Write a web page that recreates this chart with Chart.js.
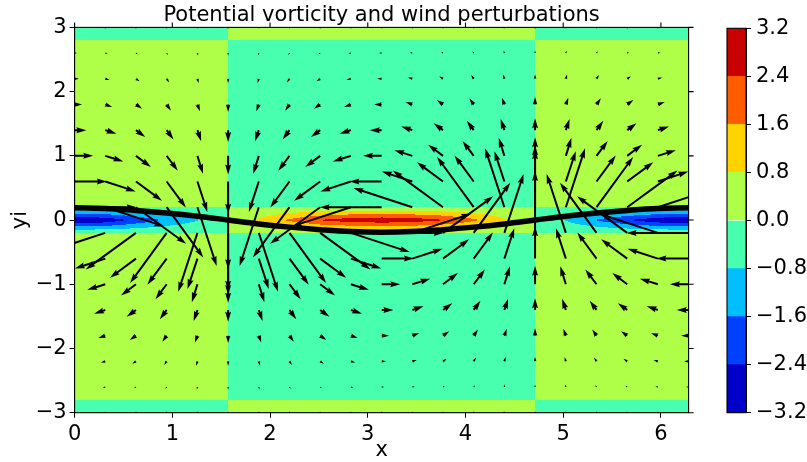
<!DOCTYPE html>
<html><head><meta charset="utf-8">
<script src="https://cdn.jsdelivr.net/npm/chart.js@4.4.0/dist/chart.umd.min.js"></script>
<style>
html,body{margin:0;padding:0;background:#fff;}
#wrap{position:relative;width:807px;height:462px;}
#wrap canvas{position:absolute;left:0;top:0;}
</style></head><body>
<div id="wrap"><canvas id="main" width="807" height="462"></canvas><canvas id="cbar" width="807" height="462"></canvas></div>
<script>
// ---------- data ----------
const titleText = 'Potential vorticity and wind perturbations';
const xTickVals = [0, 1, 2, 3, 4, 5, 6];
const yTickVals = [-3, -2, -1, 0, 1, 2, 3];
const cbLevels = [-3.2, -2.4, -1.6, -0.8, 0, 0.8, 1.6, 2.4, 3.2];
const cbColors = ['#0000c8', '#0040ff', '#00bfff', '#48ffaf', '#afff48', '#ffd200', '#ff5c00', '#c80000'];

// quiver grid (x columns, y rows)
const gridX = [0, 0.314, 0.628, 0.942, 1.257, 1.571, 1.885, 2.199, 2.513, 2.827, 3.142, 3.456, 3.770, 4.084, 4.398, 4.712, 5.027, 5.341, 5.655, 5.969, 6.283];
const gridY = [-3.0, -2.6, -2.2, -1.8, -1.4, -1.0, -0.6, -0.2, 0.2, 0.6, 1.0, 1.4, 1.8, 2.2, 2.6, 3.0];

// wind perturbation u (rows follow gridY)
const windU = [
 [-0.02,-0.02,-0.02,-0.01,-0.01,0,0.01,0.01,0.02,0.02,0.02,0.02,0.02,0.01,0.01,0,-0.01,-0.01,-0.02,-0.02,-0.02],
 [-0.04,-0.04,-0.03,-0.02,-0.01,0,0.01,0.02,0.03,0.04,0.04,0.04,0.03,0.02,0.01,0,-0.01,-0.02,-0.03,-0.04,-0.04],
 [-0.07,-0.07,-0.06,-0.04,-0.02,0,0.02,0.04,0.06,0.07,0.07,0.07,0.06,0.04,0.02,0,-0.02,-0.04,-0.06,-0.07,-0.07],
 [-0.12,-0.11,-0.10,-0.07,-0.04,0,0.04,0.07,0.10,0.11,0.12,0.11,0.10,0.07,0.04,0,-0.04,-0.07,-0.10,-0.11,-0.12],
 [-0.19,-0.18,-0.15,-0.11,-0.06,0,0.06,0.11,0.15,0.18,0.19,0.18,0.15,0.11,0.06,0,-0.06,-0.11,-0.15,-0.18,-0.19],
 [-0.30,-0.29,-0.24,-0.18,-0.09,0,0.09,0.18,0.24,0.29,0.30,0.29,0.24,0.18,0.09,0,-0.09,-0.18,-0.24,-0.29,-0.30],
 [-0.52,-0.49,-0.42,-0.31,-0.16,0,0.16,0.31,0.42,0.49,0.52,0.49,0.42,0.31,0.16,0,-0.16,-0.31,-0.42,-0.49,-0.52],
 [-1.00,-0.95,-0.81,-0.59,-0.31,0,0.31,0.59,0.81,0.95,1.00,0.95,0.81,0.59,0.31,0,-0.31,-0.59,-0.81,-0.95,-1.00],
 [1.00,0.95,0.81,0.59,0.31,0,-0.31,-0.59,-0.81,-0.95,-1.00,-0.95,-0.81,-0.59,-0.31,0,0.31,0.59,0.81,0.95,1.00],
 [0.52,0.49,0.42,0.31,0.16,0,-0.16,-0.31,-0.42,-0.49,-0.52,-0.49,-0.42,-0.31,-0.16,0,0.16,0.31,0.42,0.49,0.52],
 [0.30,0.29,0.24,0.18,0.09,0,-0.09,-0.18,-0.24,-0.29,-0.30,-0.29,-0.24,-0.18,-0.09,0,0.09,0.18,0.24,0.29,0.30],
 [0.19,0.18,0.15,0.11,0.06,0,-0.06,-0.11,-0.15,-0.18,-0.19,-0.18,-0.15,-0.11,-0.06,0,0.06,0.11,0.15,0.18,0.19],
 [0.12,0.11,0.10,0.07,0.04,0,-0.04,-0.07,-0.10,-0.11,-0.12,-0.11,-0.10,-0.07,-0.04,0,0.04,0.07,0.10,0.11,0.12],
 [0.07,0.07,0.06,0.04,0.02,0,-0.02,-0.04,-0.06,-0.07,-0.07,-0.07,-0.06,-0.04,-0.02,0,0.02,0.04,0.06,0.07,0.07],
 [0.04,0.04,0.03,0.02,0.01,0,-0.01,-0.02,-0.03,-0.04,-0.04,-0.04,-0.03,-0.02,-0.01,0,0.01,0.02,0.03,0.04,0.04],
 [0.02,0.02,0.02,0.01,0.01,0,-0.01,-0.01,-0.02,-0.02,-0.02,-0.02,-0.02,-0.01,-0.01,0,0.01,0.01,0.02,0.02,0.02]
];
// wind perturbation v (rows follow gridY)
const windV = [
 [0,-0.01,-0.01,-0.02,-0.02,-0.02,-0.02,-0.02,-0.01,-0.01,0,0.01,0.01,0.02,0.02,0.02,0.02,0.02,0.01,0.01,0],
 [0,-0.01,-0.02,-0.03,-0.04,-0.04,-0.04,-0.03,-0.02,-0.01,0,0.01,0.02,0.03,0.04,0.04,0.04,0.03,0.02,0.01,0],
 [0,-0.02,-0.04,-0.06,-0.07,-0.07,-0.07,-0.06,-0.04,-0.02,0,0.02,0.04,0.06,0.07,0.07,0.07,0.06,0.04,0.02,0],
 [0,-0.04,-0.07,-0.10,-0.11,-0.12,-0.11,-0.10,-0.07,-0.04,0,0.04,0.07,0.10,0.11,0.12,0.11,0.10,0.07,0.04,0],
 [0,-0.06,-0.11,-0.15,-0.18,-0.19,-0.18,-0.15,-0.11,-0.06,0,0.06,0.11,0.15,0.18,0.19,0.18,0.15,0.11,0.06,0],
 [0,-0.09,-0.18,-0.24,-0.29,-0.30,-0.29,-0.24,-0.18,-0.09,0,0.09,0.18,0.24,0.29,0.30,0.29,0.24,0.18,0.09,0],
 [0,-0.16,-0.31,-0.42,-0.49,-0.52,-0.49,-0.42,-0.31,-0.16,0,0.16,0.31,0.42,0.49,0.52,0.49,0.42,0.31,0.16,0],
 [0,-0.31,-0.59,-0.81,-0.95,-1.00,-0.95,-0.81,-0.59,-0.31,0,0.31,0.59,0.81,0.95,1.00,0.95,0.81,0.59,0.31,0],
 [0,-0.31,-0.59,-0.81,-0.95,-1.00,-0.95,-0.81,-0.59,-0.31,0,0.31,0.59,0.81,0.95,1.00,0.95,0.81,0.59,0.31,0],
 [0,-0.16,-0.31,-0.42,-0.49,-0.52,-0.49,-0.42,-0.31,-0.16,0,0.16,0.31,0.42,0.49,0.52,0.49,0.42,0.31,0.16,0],
 [0,-0.09,-0.18,-0.24,-0.29,-0.30,-0.29,-0.24,-0.18,-0.09,0,0.09,0.18,0.24,0.29,0.30,0.29,0.24,0.18,0.09,0],
 [0,-0.06,-0.11,-0.15,-0.18,-0.19,-0.18,-0.15,-0.11,-0.06,0,0.06,0.11,0.15,0.18,0.19,0.18,0.15,0.11,0.06,0],
 [0,-0.04,-0.07,-0.10,-0.11,-0.12,-0.11,-0.10,-0.07,-0.04,0,0.04,0.07,0.10,0.11,0.12,0.11,0.10,0.07,0.04,0],
 [0,-0.02,-0.04,-0.06,-0.07,-0.07,-0.07,-0.06,-0.04,-0.02,0,0.02,0.04,0.06,0.07,0.07,0.07,0.06,0.04,0.02,0],
 [0,-0.01,-0.02,-0.03,-0.04,-0.04,-0.04,-0.03,-0.02,-0.01,0,0.01,0.02,0.03,0.04,0.04,0.04,0.03,0.02,0.01,0],
 [0,-0.01,-0.01,-0.02,-0.02,-0.02,-0.02,-0.02,-0.01,-0.01,0,0.01,0.01,0.02,0.02,0.02,0.02,0.02,0.01,0.01,0]
];

// potential vorticity field: columns at pvX, rows at pvY
const pvX = [0, 0.314, 0.628, 0.942, 1.257, 1.571, 1.885, 2.199, 2.513, 2.827, 3.142, 3.456, 3.770, 4.084, 4.398, 4.712, 5.027, 5.341, 5.655, 5.969, 6.283];
const pvY = [-3.0, -2.8, -2.6, -0.4, -0.2, 0, 0.2, 0.4, 2.6, 2.8, 3.0];
const pvCenter = [-3.18,-2.95,-2.2,-1.45,-0.85,0,0.9,1.75,2.45,2.85,3.0,2.85,2.45,1.75,0.9,0,-0.85,-1.65,-2.35,-2.95,-3.18];
const pvFar    = [0.3,0.29,0.24,0.18,0.09,0,-0.09,-0.18,-0.24,-0.29,-0.3,-0.29,-0.24,-0.18,-0.09,0,0.09,0.18,0.24,0.29,0.3];
const pvEdge   = [-0.3,-0.29,-0.24,-0.18,-0.09,0,0.09,0.18,0.24,0.29,0.3,0.29,0.24,0.18,0.09,0,-0.09,-0.18,-0.24,-0.29,-0.3];
const pvNull   = [0,0,0,0,0,0,0,0,0,0,0,0,0,0,0,0,0,0,0,0,0];
const pvRows = [pvEdge, pvNull, pvFar, pvFar, pvNull, pvCenter, pvNull, pvFar, pvFar, pvNull, pvEdge];

// displaced front (thick line)
const frontX = gridX;
const frontY = [0.19,0.18,0.15,0.11,0.06,0,-0.06,-0.11,-0.15,-0.18,-0.19,-0.18,-0.15,-0.11,-0.06,0,0.06,0.11,0.15,0.18,0.19];

// ---------- style ----------
const FONT = 'DejaVu Sans';
const FS = 21;
Chart.defaults.font.family = FONT;
Chart.defaults.font.size = FS;
Chart.defaults.color = '#000';

function minusFmt(v, digits){ return (digits == null ? String(v) : v.toFixed(digits)).replace('-', '\u2212'); }
function hexRgb(h){return [parseInt(h.slice(1,3),16),parseInt(h.slice(3,5),16),parseInt(h.slice(5,7),16)];}
function locate(arr, v){
  if (v <= arr[0]) return [0, 0];
  const n = arr.length;
  if (v >= arr[n-1]) return [n-2, 1];
  let i = 0; while (i < n-2 && v > arr[i+1]) i++;
  return [i, (v - arr[i]) / (arr[i+1] - arr[i])];
}
function binOf(q){
  for (let k = 0; k < cbLevels.length-1; k++) if (q < cbLevels[k+1]) return k;
  return cbLevels.length-2;
}

const fieldPlugin = {
  id: 'pvField',
  beforeDatasetsDraw(chart){
    const ctx = chart.ctx, a = chart.chartArea, sx = chart.scales.x, sy = chart.scales.y;
    // filled contours
    const x0 = Math.floor(a.left), x1 = Math.ceil(a.right), y0 = Math.floor(a.top), y1 = Math.ceil(a.bottom);
    const w = x1 - x0, h = y1 - y0;
    const off = document.createElement('canvas'); off.width = w; off.height = h;
    const octx = off.getContext('2d'); const img = octx.createImageData(w, h);
    const rgb = cbColors.map(hexRgb);
    const cols = [], rows = [];
    for (let i = 0; i < w; i++) cols.push(locate(pvX, sx.getValueForPixel(x0 + i + 0.5)));
    for (let j = 0; j < h; j++) rows.push(locate(pvY, sy.getValueForPixel(y0 + j + 0.5)));
    for (let j = 0; j < h; j++){
      const [rj, s] = rows[j]; const A = pvRows[rj], B = pvRows[rj+1];
      for (let i = 0; i < w; i++){
        const [ci, t] = cols[i];
        const q = (1-s)*((1-t)*A[ci] + t*A[ci+1]) + s*((1-t)*B[ci] + t*B[ci+1]);
        const c = rgb[binOf(q)]; const p = (j*w + i)*4;
        img.data[p] = c[0]; img.data[p+1] = c[1]; img.data[p+2] = c[2]; img.data[p+3] = 255;
      }
    }
    octx.putImageData(img, 0, 0);
    ctx.save();
    ctx.beginPath(); ctx.rect(a.left, a.top, a.right - a.left, a.bottom - a.top); ctx.clip();
    ctx.imageSmoothingEnabled = false;
    ctx.drawImage(off, x0, y0);
    // quiver arrows (matplotlib style)
    const sw = 2.0;                      // shaft width, px
    const scalePx = (a.right - a.left) * 0.101;  // px per wind unit
    ctx.fillStyle = '#000';
    for (let j = 0; j < gridY.length; j++){
      for (let i = 0; i < gridX.length; i++){
        const px = sx.getPixelForValue(gridX[i]), py = sy.getPixelForValue(gridY[j]);
        const dx = windU[j][i]*scalePx, dy = -windV[j][i]*scalePx;
        const L = Math.hypot(dx, dy) / sw;
        const ang = Math.atan2(dy, dx);
        let pts;
        if (L < 1){
          pts = []; for (let k = 0; k < 6; k++){ const th = k*Math.PI/3; pts.push([0.5*Math.cos(th), 0.5*Math.sin(th)]); }
        } else {
          const Ld = Math.max(L, 5), f = L < 5 ? L/5 : 1;
          pts = [[0,0.5],[Ld-4.5,0.5],[Ld-5,1.5],[Ld,0],[Ld-5,-1.5],[Ld-4.5,-0.5],[0,-0.5]].map(p => [p[0]*f, p[1]*f]);
        }
        const ca = Math.cos(ang), sa = Math.sin(ang);
        ctx.beginPath();
        pts.forEach((p, k) => {
          const X = px + sw*(p[0]*ca - p[1]*sa), Y = py + sw*(p[0]*sa + p[1]*ca);
          if (k === 0) ctx.moveTo(X, Y); else ctx.lineTo(X, Y);
        });
        ctx.closePath(); ctx.fill();
      }
    }
    ctx.restore();
  },
  afterDraw(chart){
    const ctx = chart.ctx, a = chart.chartArea, sx = chart.scales.x, sy = chart.scales.y;
    ctx.save();
    ctx.strokeStyle = '#000'; ctx.lineWidth = 1.1;
    ctx.strokeRect(a.left, a.top, a.right - a.left, a.bottom - a.top);
    ctx.beginPath();
    xTickVals.forEach(v => { const X = sx.getPixelForValue(v); ctx.moveTo(X, a.top); ctx.lineTo(X, a.top - 5); });
    yTickVals.forEach(v => { const Y = sy.getPixelForValue(v); ctx.moveTo(a.right, Y); ctx.lineTo(a.right + 5, Y); });
    ctx.stroke();
    ctx.restore();
  }
};

new Chart(document.getElementById('main'), {
  type: 'scatter',
  data: { datasets: [{
    type: 'line',
    data: frontX.map((x, i) => ({x, y: frontY[i]})),
    borderColor: '#000', borderWidth: 5.5, pointRadius: 0, tension: 0.4, fill: false, clip: 0
  }]},
  options: {
    responsive: false, animation: false, events: [],
    layout: { padding: { left: 0, right: 118.4, top: 0, bottom: 0 } },
    plugins: {
      legend: { display: false }, tooltip: { enabled: false },
      title: { display: true, text: titleText, fullSize: false, color: '#000',
        font: { family: FONT, size: FS, weight: 'normal', lineHeight: 1 }, padding: { top: 5.5, bottom: 0.9 } }
    },
    scales: {
      x: { type: 'linear', min: 0, max: 6.2832,
        afterBuildTicks: s => { s.ticks = xTickVals.map(v => ({value: v})); },
        afterFit: s => { s.height = 49.3; },
        ticks: { padding: 4, color: '#000', font: { size: FS }, callback: v => minusFmt(v) },
        grid: { drawOnChartArea: false, drawTicks: true, tickLength: 5, color: '#000' },
        border: { color: '#000', width: 1 },
        title: { display: true, text: 'x', color: '#000', font: { size: FS, lineHeight: 1 }, padding: { top: 0, bottom: 1 } } },
      y: { type: 'linear', min: -3, max: 3,
        afterBuildTicks: s => { s.ticks = yTickVals.map(v => ({value: v})); },
        afterFit: s => { s.width = 74.6; },
        ticks: { padding: 3, color: '#000', font: { size: FS }, callback: v => minusFmt(v) },
        grid: { drawOnChartArea: false, drawTicks: true, tickLength: 5, color: '#000' },
        border: { color: '#000', width: 1 },
        title: { display: true, text: 'yi', color: '#000', font: { size: FS }, padding: { top: 8, bottom: 0 } } }
    }
  },
  plugins: [fieldPlugin]
});

// ---------- colorbar ----------
const cbOutline = {
  id: 'cbOutline',
  afterDraw(chart){
    const ctx = chart.ctx, a = chart.chartArea;
    ctx.save(); ctx.strokeStyle = '#000'; ctx.lineWidth = 1.1;
    ctx.strokeRect(a.left, a.top, a.right - a.left, a.bottom - a.top);
    ctx.restore();
  }
};
new Chart(document.getElementById('cbar'), {
  type: 'bar',
  data: { labels: ['pv'], datasets: cbColors.map((c, k) => ({
    data: [[cbLevels[k], cbLevels[k+1]]], backgroundColor: c, borderWidth: 0,
    barPercentage: 1, categoryPercentage: 1, grouped: false })) },
  options: {
    responsive: false, animation: false, events: [],
    layout: { padding: { left: 727, right: 0, top: 28.3, bottom: 49.3 } },
    plugins: { legend: { display: false }, tooltip: { enabled: false }, title: { display: false } },
    scales: {
      x: { display: false },
      y: { position: 'right', min: -3.2, max: 3.2,
        afterBuildTicks: s => { s.ticks = cbLevels.map(v => ({value: v})); },
        afterFit: s => { s.width = 61; },
        ticks: { callback: v => minusFmt(v, 1), padding: 5, color: '#000', font: { size: FS } },
        grid: { drawOnChartArea: false, drawTicks: true, tickLength: 5, color: '#000' },
        border: { color: '#000', width: 1 } }
    }
  },
  plugins: [cbOutline]
});
</script>
</body></html>
